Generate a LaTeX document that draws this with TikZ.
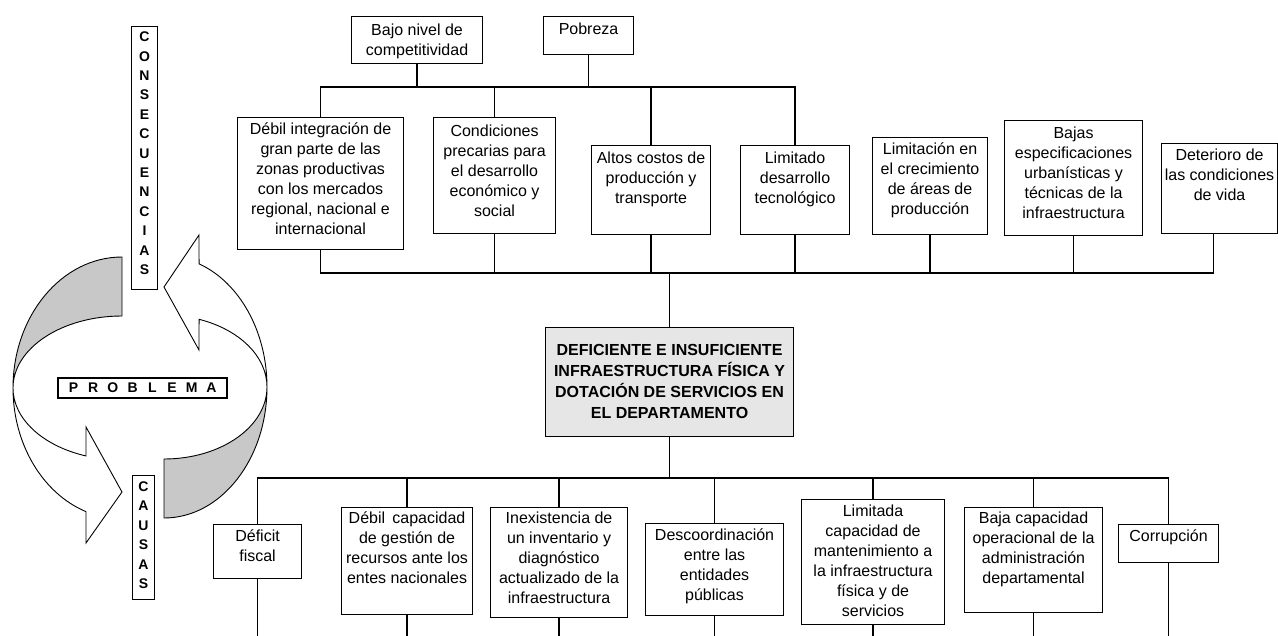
\documentclass[tikz,border=0pt]{standalone}
\usepackage{fontspec}
\setmainfont{Liberation Sans}
\definecolor{arrowgray}{HTML}{C8C8C8}
\definecolor{probfill}{HTML}{E6E6E6}
\newcommand{\nf}{\fontsize{16}{20}\selectfont}
\newcommand{\bfx}{\fontsize{16}{21}\selectfont\bfseries}
\newcommand{\vf}{\fontsize{14}{19.4}\selectfont\bfseries}
\newcommand{\bxt}[5]{\parbox[t][#2pt][t]{#1pt}{\centering#4\vspace*{#3pt}\strut#5\par}}
\newcommand{\lt}[1]{\makebox[19.7pt]{#1}}
\begin{document}
\begin{tikzpicture}[x=1pt,y=-1pt,
  box/.style={draw, line width=1.1pt, fill=white, inner sep=0pt, anchor=north west},
  conn/.style={line width=1.4pt},
  arr/.style={draw, line width=0.9pt, line join=miter}]
\useasboundingbox (0,0) rectangle (1278,635);

% ---------- cycle arrows ----------
\draw[arr, fill=arrowgray] (122,257) arc[start angle=90,end angle=180,x radius=109pt,y radius=131pt]
   arc[start angle=180,end angle=90,x radius=109pt,y radius=72pt] -- cycle;
\draw[arr, fill=white] (13,388) arc[start angle=180,end angle=250.7,x radius=109pt,y radius=131pt]
   -- (86,543) -- (122,492) -- (86,427) -- ([shift={(122,388)}]250.7:109pt and 72pt)
   arc[start angle=250.7,end angle=180,x radius=109pt,y radius=72pt] -- cycle;
\draw[arr, fill=arrowgray] (164,518) arc[start angle=-90,end angle=0,x radius=103pt,y radius=131pt]
   arc[start angle=0,end angle=-90,x radius=103pt,y radius=72pt] -- cycle;
\draw[arr, fill=white] (267,387) arc[start angle=0,end angle=70.1,x radius=103pt,y radius=131pt]
   -- (199,235) -- (164,287) -- (199,350) -- ([shift={(164,387)}]70.1:103pt and 72pt)
   arc[start angle=70.1,end angle=0,x radius=103pt,y radius=72pt] -- cycle;

\node[box] (cons) at (131,26) {\bxt{26}{263}{1.6}{\vf}{C\\O\\N\\S\\E\\C\\U\\E\\N\\C\\I\\A\\S}};
\node[box] (caus) at (132,475) {\bxt{22}{124}{2.4}{\vf}{C\\A\\U\\S\\A\\S}};
\node[box, anchor=center, minimum width=169pt, minimum height=20pt] (prl) at (142.5,388)
  {\fontsize{14}{16}\selectfont\bfseries\lt{P}\lt{R}\lt{O}\lt{B}\lt{L}\lt{E}\lt{M}\lt{A}};

% ---------- top boxes ----------
\node[box] (bajo) at (351,16) {\bxt{131}{47}{5}{\nf}{Bajo nivel de\\competitividad}};
\node[box] (pob) at (543,16) {\bxt{90}{38}{4}{\nf}{Pobreza}};

\node[box] (deb1) at (237,117) {\bxt{166}{132}{3}{\nf}{Débil integración de\\gran parte de las\\zonas productivas\\con los mercados\\regional, nacional e\\internacional}};
\node[box] (cond) at (433,117) {\bxt{122}{116}{5}{\nf}{Condiciones\\precarias para\\el desarrollo\\económico y\\social}};
\node[box] (altos) at (591,145) {\bxt{119}{89}{4}{\nf}{Altos costos de\\producción y\\transporte}};
\node[box] (limt) at (740,145) {\bxt{109}{89}{4}{\nf}{Limitado\\desarrollo\\tecnológico}};
\node[box] (limc) at (872,137) {\bxt{115}{97}{3}{\nf}{Limitación en\\el crecimiento\\de áreas de\\producción}};
\node[box] (bajas) at (1004,120) {\bxt{138}{115}{4}{\nf}{Bajas\\especificaciones\\urbanísticas y\\técnicas de la\\infraestructura}};
\node[box] (det) at (1161,143) {\bxt{116}{90}{3}{\nf}{Deterioro de\\las condiciones\\de vida}};

% ---------- central problem ----------
\node[box, fill=probfill] (prob) at (545,327) {\bxt{248}{109}{13.3}{\bfx}{DEFICIENTE E INSUFICIENTE\\INFRAESTRUCTURA FÍSICA Y\\DOTACIÓN DE SERVICIOS EN\\EL DEPARTAMENTO}};

% ---------- bottom boxes ----------
\node[box] (def) at (213,524) {\bxt{88}{54}{3}{\nf}{Déficit\\fiscal}};
\node[box] (debc) at (341,507) {\bxt{131}{107}{2}{\nf}{Débil\hspace{0.45em}capacidad\\de gestión de\\recursos ante los\\entes nacionales}};
\node[box] (inex) at (490,507) {\bxt{137}{110}{2}{\nf}{Inexistencia de\\un inventario y\\diagnóstico\\actualizado de la\\infraestructura}};
\node[box] (desc) at (645,523) {\bxt{138}{92}{3}{\nf}{Descoordinación\\entre las\\entidades\\públicas}};
\node[box] (limd) at (801,499) {\bxt{143}{125}{3}{\nf}{Limitada\\capacidad de\\mantenimiento a\\la infraestructura\\física y de\\servicios}};
\node[box] (baja) at (964,507) {\bxt{138}{105}{2}{\nf}{Baja capacidad\\operacional de la\\administración\\departamental}};
\node[box] (corr) at (1118,524) {\bxt{100}{38}{3}{\nf}{Corrupción}};

% ---------- connectors ----------
\coordinate (b1) at (0,87);
\coordinate (b2) at (0,273);
\coordinate (b3) at (0,478);
\coordinate (bot) at (0,636);

\draw[conn] (bajo.south) -- (bajo.south |- b1);
\draw[conn] (pob.south) -- (pob.south |- b1);
\draw[conn] (deb1.north) -- (deb1.north |- b1) -- (limt.north |- b1) -- (limt.north);
\draw[conn] (cond.north) -- (cond.north |- b1);
\draw[conn] (altos.north) -- (altos.north |- b1);

\draw[conn] (deb1.south) -- (deb1.south |- b2) -- ([xshift=-6pt]det.south |- b2) -- ([xshift=-6pt]det.south);
\draw[conn] (cond.south) -- (cond.south |- b2);
\draw[conn] (altos.south) -- (altos.south |- b2);
\draw[conn] (limt.south) -- (limt.south |- b2);
\draw[conn] (limc.south) -- (limc.south |- b2);
\draw[conn] (bajas.south) -- (bajas.south |- b2);
\draw[conn] (prob.north) -- (prob.north |- b2);

\draw[conn] (prob.south) -- (prob.south |- b3);
\draw[conn] (def.north) -- (def.north |- b3) -- (corr.north |- b3) -- (corr.north);
\foreach \n in {debc,inex,desc,limd,baja}{
  \draw[conn] (\n.north) -- (\n.north |- b3);
}
\foreach \n in {def,debc,inex,desc,limd,baja,corr}{
  \draw[conn] (\n.south) -- (\n.south |- bot);
}
\end{tikzpicture}
\end{document}
